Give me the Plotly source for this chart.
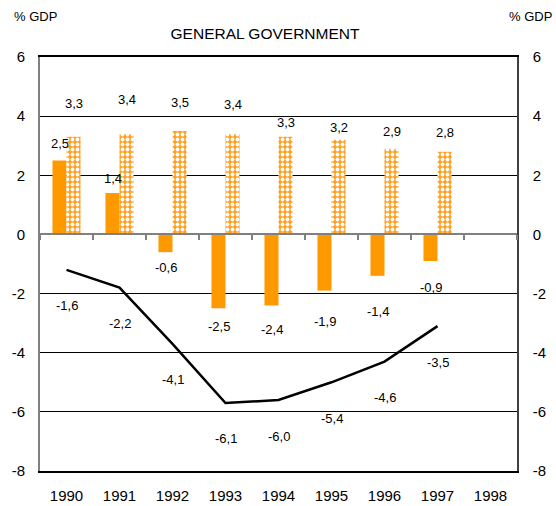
import plotly.graph_objects as go

# ---------------- data ----------------
years = ["1990", "1991", "1992", "1993", "1994", "1995", "1996", "1997", "1998"]
bar_years = years[:8]
solid_values = [2.5, 1.4, -0.6, -2.5, -2.4, -1.9, -1.4, -0.9]
pattern_values = [3.3, 3.4, 3.5, 3.4, 3.3, 3.2, 2.9, 2.8]
line_values = [-1.2, -1.8, -3.7, -5.7, -5.6, -5.0, -4.3, -3.1]
line_labels = [-1.6, -2.2, -4.1, -6.1, -6.0, -5.4, -4.6, -3.5]
y_ticks = [-8, -6, -4, -2, 0, 2, 4, 6]
y_tick_text = ["-8", "-6", "-4", "-2", "0", "2", "4", "6"]

# ---------------- label placement (pixels) ----------------
solid_label_gap = [17, 15, 15, 18, 24, 31, 36, 26]
pattern_label_gap = [33, 34, 28, 29, 14, 12, 17, 19]
line_label_gap = 36

FONT = "Liberation Sans, Arial, sans-serif"
ORANGE = "#FF9900"


def fmt(v):
    return f"{v:.1f}".replace(".", ",")


fig = go.Figure()

fig.add_trace(go.Bar(
    x=bar_years, y=solid_values, name="solid",
    marker=dict(color=ORANGE, line=dict(width=0)),
    offsetgroup="a", xaxis="x", yaxis="y",
))
fig.add_trace(go.Bar(
    x=bar_years, y=pattern_values, name="pattern",
    marker=dict(color=ORANGE, line=dict(width=0),
                pattern=dict(shape=".", fgcolor="white", bgcolor="#FFA020",
                             size=5, solidity=0.45, fillmode="replace")),
    offsetgroup="b", xaxis="x", yaxis="y",
))
fig.add_trace(go.Scatter(
    x=bar_years, y=line_values, mode="lines",
    line=dict(color="black", width=2.5),
    xaxis="x3", yaxis="y",
))
# binds the right-hand axis (invisible)
fig.add_trace(go.Scatter(x=bar_years, y=line_values, mode="lines",
                         line=dict(width=0), hoverinfo="skip",
                         xaxis="x", yaxis="y2"))

annotations = []
for i, (v, g) in enumerate(zip(solid_values, solid_label_gap)):
    annotations.append(dict(x=i, y=v, xref="x", yref="y", text=fmt(v),
                            showarrow=False, xshift=-7,
                            yshift=g if v >= 0 else -g,
                            yanchor="middle", font=dict(size=13, color="black")))
for i, (v, g) in enumerate(zip(pattern_values, pattern_label_gap)):
    annotations.append(dict(x=i, y=v, xref="x", yref="y", text=fmt(v),
                            showarrow=False, xshift=7, yshift=g,
                            yanchor="middle", font=dict(size=13, color="black")))
for i, (v, lab) in enumerate(zip(line_values, line_labels)):
    annotations.append(dict(x=i, y=v, xref="x", yref="y", text=fmt(lab),
                            showarrow=False, yshift=-line_label_gap,
                            yanchor="middle", font=dict(size=13, color="black")))

annotations.append(dict(text="% GDP", xref="paper", yref="paper",
                        x=(12 - 40) / 477, y=1 + (57 - 16) / 414,
                        xanchor="left", yanchor="middle", showarrow=False,
                        font=dict(size=13, color="black")))
annotations.append(dict(text="% GDP", xref="paper", yref="paper",
                        x=(554 - 40) / 477, y=1 + (57 - 16) / 414,
                        xanchor="right", yanchor="middle", showarrow=False,
                        font=dict(size=13, color="black")))

fig.update_layout(
    width=556, height=506,
    margin=dict(l=40, r=39, t=57, b=35),
    paper_bgcolor="white", plot_bgcolor="white",
    font=dict(family=FONT, color="black"),
    showlegend=False,
    barmode="group", bargap=0.47, bargroupgap=0,
    title=dict(text="GENERAL GOVERNMENT", x=265 / 556, xanchor="center",
               y=1 - 34 / 506, yanchor="middle", font=dict(size=15.5)),
    xaxis=dict(type="category", categoryarray=years, categoryorder="array",
               range=[-0.5, 8.5], showline=True, linecolor="black", linewidth=2,
               mirror=True, ticks="", showgrid=False, tickfont=dict(size=15),
               ticklabelstandoff=10, automargin=False),
    xaxis3=dict(type="category", categoryarray=years, categoryorder="array",
                range=[-0.5, 8.5], overlaying="x", anchor="free",
                position=8 / 14, side="bottom", showline=True,
                linecolor="#808080", linewidth=2, ticks="outside",
                tickson="boundaries", ticklen=5, tickcolor="#808080",
                tickwidth=1.5, showticklabels=False, showgrid=False,
                automargin=False),
    yaxis=dict(range=[-8, 6], tickvals=y_ticks, ticktext=y_tick_text,
               showgrid=True, gridcolor="black", gridwidth=1, zeroline=False,
               showline=True, linecolor="#808080", linewidth=2, ticks="",
               tickfont=dict(size=15), ticklabelstandoff=10, automargin=False),
    yaxis2=dict(range=[-8, 6], tickvals=y_ticks, ticktext=y_tick_text,
                overlaying="y", side="right",
                showgrid=False, zeroline=False, showline=True,
                linecolor="#404040", linewidth=1.5, ticks="",
                tickfont=dict(size=15), ticklabelstandoff=11, automargin=False),
    annotations=annotations,
)

fig.write_html(
    "out.html",
    config={"displayModeBar": False},
    post_script="document.body.style.margin='0';document.body.style.overflow='hidden';",
)
